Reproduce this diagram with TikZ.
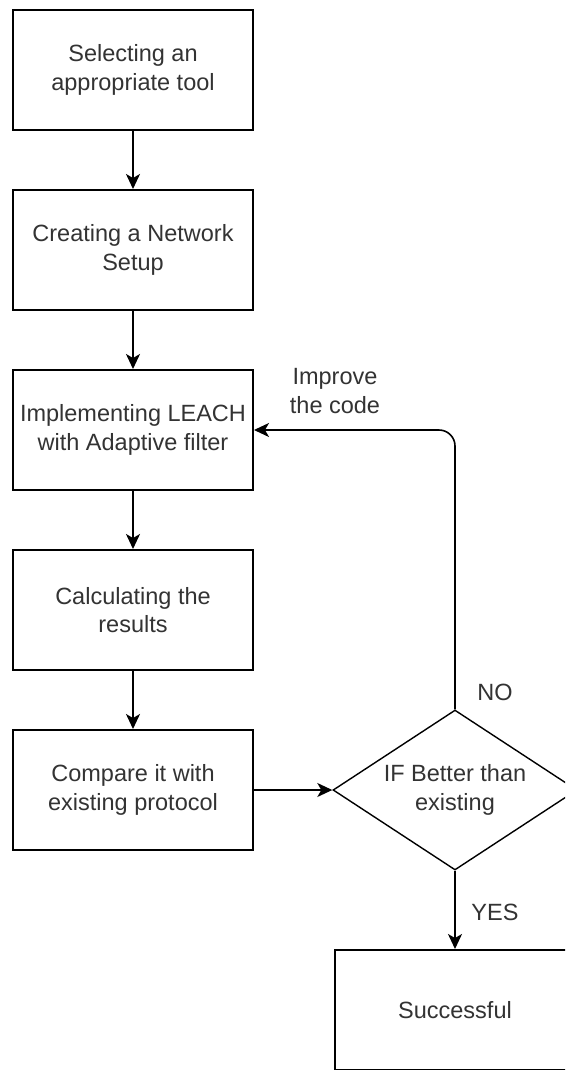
\documentclass[tikz,border=0pt]{standalone}
\usepackage{fontspec}
\setmainfont{Liberation Sans}
\usetikzlibrary{arrows.meta,shapes.geometric}
\begin{document}
\begin{tikzpicture}[x=1pt,y=-1pt,
  every node/.style={font=\fontsize{23.5}{28.5}\selectfont, text=black!80},
  stepbox/.style={draw=black, line width=2pt, minimum width=240pt, minimum height=120pt,
                  align=center, inner sep=0pt},
  decision/.style={draw=black, line width=1.4pt, diamond, aspect=1.525, minimum width=244pt,
                   minimum height=160pt, inner sep=0pt, align=center},
  flow/.style={draw=black, line width=1.6pt,
               -{Stealth[length=15pt,width=14pt,inset=4pt]}},
  lbl/.style={align=center}]
  \useasboundingbox (0,0) rectangle (565,1070);
  \clip (0,0) rectangle (565,1070);
  \fill[white] (0,0) rectangle (565,1070);

  % process steps
  \node[stepbox] (s1) at (133,70)  {Selecting an\\appropriate tool};
  \node[stepbox] (s2) at (133,250) {Creating a Network\\Setup};
  \node[stepbox] (s3) at (133,430) {Implementing LEACH\\with Adaptive filter};
  \node[stepbox] (s4) at (133,610) {Calculating the\\results};
  \node[stepbox] (s5) at (133,790) {Compare it with\\existing protocol};

  % decision and outcome
  \node[decision] (d) at (455,790) {IF Better than\\existing};
  \node[stepbox] (ok) at (455,1010) {Successful};

  % main flow
  \draw[flow] (s1.south) -- (s2.north);
  \draw[flow] (s2.south) -- (s3.north);
  \draw[flow] (s3.south) -- (s4.north);
  \draw[flow] (s4.south) -- (s5.north);
  \draw[flow] (s5.east) -- (d.west);
  \draw[flow] (d.south) -- (ok.north);

  % feedback loop
  \draw[flow, rounded corners=16pt] (d.north) |- (s3.east);

  % labels
  \node[lbl] at (335,391) {Improve\\the code};
  \node[lbl] at (495,692) {NO};
  \node[lbl] at (495,912) {YES};
\end{tikzpicture}
\end{document}
